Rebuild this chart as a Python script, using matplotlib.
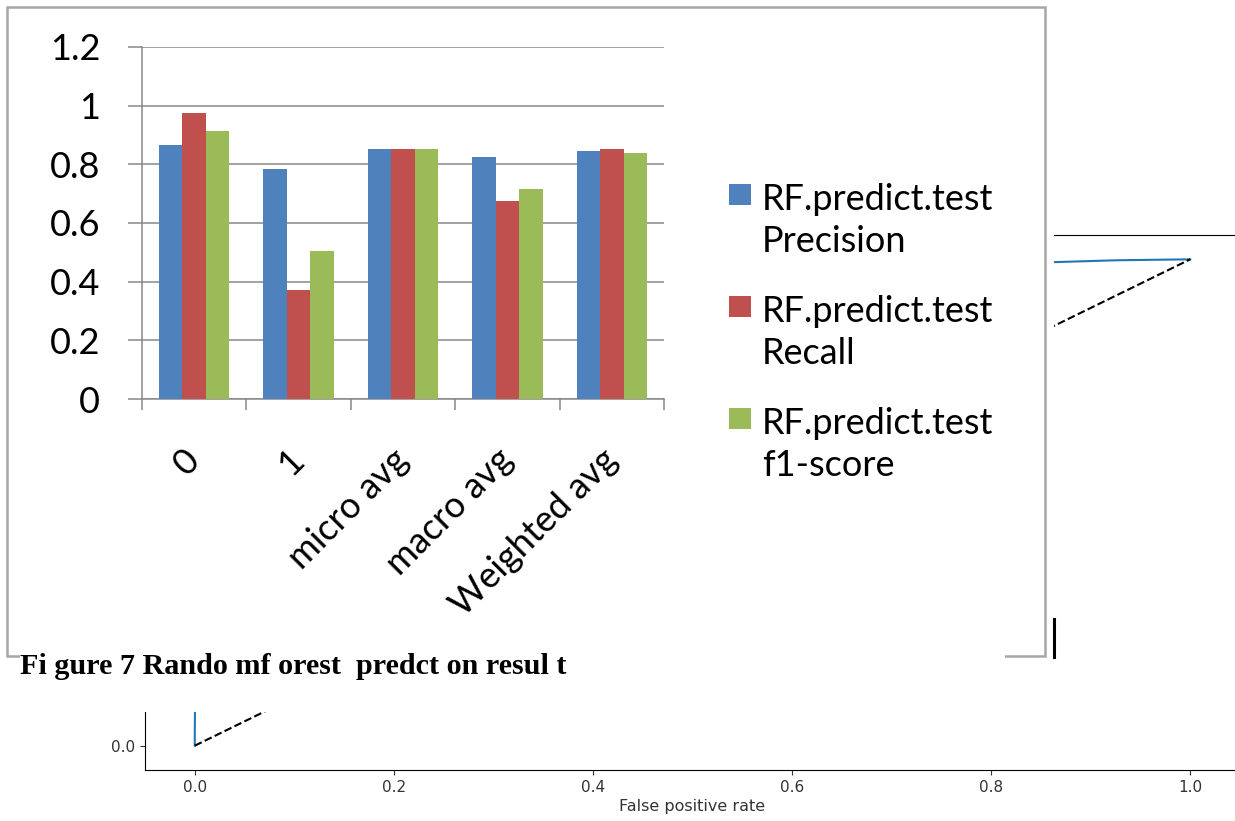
import numpy as np
import matplotlib
matplotlib.use("Agg")
import matplotlib.pyplot as plt
from matplotlib.patches import Rectangle
from matplotlib.lines import Line2D

# Data: classification report of the random forest
categories = ["0", "1", "micro avg", "macro avg", "Weighted avg"]
precision = [0.867, 0.784, 0.853, 0.826, 0.846]
recall = [0.976, 0.372, 0.853, 0.675, 0.853]
f1_score = [0.915, 0.503, 0.853, 0.716, 0.840]
series_names = ["RF.predict.test\nPrecision", "RF.predict.test\nRecall",
                "RF.predict.test\nf1-score"]
y_ticks = [0, 0.2, 0.4, 0.6, 0.8, 1.0, 1.2]
y_tick_labels = ["0", "0.2", "0.4", "0.6", "0.8", "1", "1.2"]

# ROC curve sitting behind the bar chart (only partly visible)
roc_fpr = [0.0, 0.0, 0.003, 0.05, 0.3, 0.86, 0.925, 1.0]
roc_tpr = [0.0, 0.03, 0.6, 0.85, 0.96, 0.994, 0.998, 1.0]
roc_ticks = [0.0, 0.2, 0.4, 0.6, 0.8, 1.0]

colors = ["#4f81bd", "#c0504d", "#9bbb59"]
grey = "#878787"
fsize = 26

W, H = 1235, 821


def frac(x0, y0, x1, y1):
    # pixel box -> figure fraction [left, bottom, width, height]
    return [x0 / W, 1 - y1 / H, (x1 - x0) / W, (y1 - y0) / H]


fig = plt.figure(figsize=(W / 100, H / 100), dpi=100)

# background ROC plot
roc = fig.add_axes(frac(145, 235, 1240, 770), zorder=0)
roc.plot(roc_fpr, roc_tpr, color="#1f77b4", lw=1.5)
roc.plot([0, 1], [0, 1], "k--", lw=1.5)
roc.set_xlim(-0.05, 1.05)
roc.set_ylim(-0.05, 1.05)
roc.set_xticks(roc_ticks)
roc.set_yticks(roc_ticks)
roc.set_xticklabels([f"{t:.1f}" for t in roc_ticks])
# only the 0.0 label peeks out from under the pasted chart
roc.set_yticklabels([f"{t:.1f}" if t == 0 else "" for t in roc_ticks])
roc.tick_params(labelsize=11, colors="#333333")
roc.set_xlabel("False positive rate", fontsize=11.5, color="#333333", labelpad=3)

# white sheet of the pasted Excel chart
fig.add_artist(Rectangle((0, 1 - 660 / H), 1054 / W, 660 / H, transform=fig.transFigure,
                         facecolor="white", edgecolor="none", zorder=1))
fig.add_artist(Rectangle((7 / W, 1 - 656 / H), 1038 / W, 649 / H, transform=fig.transFigure,
                         facecolor="none", edgecolor="#a6a6a6", lw=1.8, zorder=3))
fig.add_artist(Rectangle((20 / W, 1 - 712 / H), 985 / W, 62 / H, transform=fig.transFigure,
                         facecolor="white", edgecolor="none", zorder=4))
fig.text(20 / W, 1 - 666 / H, "Fi gure 7 Rando mf orest  predct on resul t",
         family="Liberation Serif", weight="bold", fontsize=21.7, va="center", zorder=5)
fig.add_artist(Line2D([1054 / W, 1054 / W], [1 - 619 / H, 1 - 657 / H],
                      transform=fig.transFigure, color="black", lw=2.2, zorder=5))

# Excel bar chart
ax = fig.add_axes(frac(142, 47, 664, 399), zorder=2)
ax.set_facecolor("none")
x = np.arange(len(categories))
bw = 0.225
for i, vals in enumerate([precision, recall, f1_score]):
    ax.bar(x + (i - 1) * bw, vals, bw, color=colors[i], zorder=3)

ax.set_xlim(-0.5, len(categories) - 0.5)
ax.set_ylim(0, 1.2)
ax.set_yticks(y_ticks)
ax.set_yticklabels(y_tick_labels)
ax.set_xticks(x)
ax.set_xticklabels(categories, rotation=45, ha="right", va="center", rotation_mode="anchor")
ax.set_xticks(np.arange(-0.5, len(categories)), minor=True)
ax.yaxis.grid(True, color=grey, lw=1.1)
ax.set_axisbelow(True)
for s in ["top", "right"]:
    ax.spines[s].set_visible(False)
for s in ["left", "bottom"]:
    ax.spines[s].set_color(grey)
    ax.spines[s].set_linewidth(1.1)
ax.tick_params(axis="y", length=10, width=1.1, color=grey, pad=20, labelsize=fsize)
ax.tick_params(axis="x", which="major", length=0, pad=40, labelsize=fsize)
ax.tick_params(axis="x", which="minor", length=8, width=1.1, color=grey)
for lbl in ax.get_xticklabels() + ax.get_yticklabels():
    lbl.set_family("Lato")

# legend, Excel style: square aligned with the first line of each label
for i, name in enumerate(series_names):
    base = 210 + 112 * i
    fig.add_artist(Rectangle((729 / W, 1 - (base - 5) / H), 22 / W, 21 / H,
                             transform=fig.transFigure, facecolor=colors[i],
                             edgecolor="none", zorder=5))
    for j, line in enumerate(name.split("\n")):
        fig.text(762 / W, 1 - (base + 42 * j) / H, line, family="Lato", fontsize=fsize,
                 va="baseline", ha="left", zorder=5)

fig.savefig("out.png", dpi=100)
